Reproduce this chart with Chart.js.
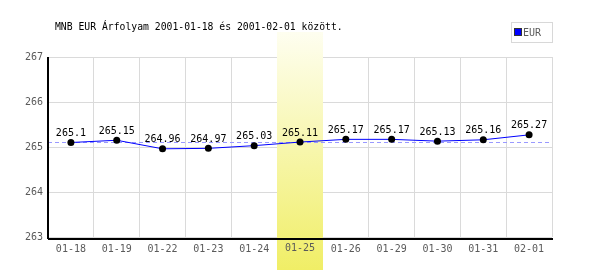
<!DOCTYPE html>
<html>
<head>
<meta charset="utf-8">
<script src="https://cdn.jsdelivr.net/npm/chart.js@4"></script>
<style>
html,body{margin:0;padding:0;background:#fff;}
canvas{display:block;}
</style>
</head>
<body>
<canvas id="c" width="600" height="270"></canvas>
<script>
const titleText = 'MNB EUR Árfolyam 2001-01-18 és 2001-02-01 között.';
const seriesName = 'EUR';
const categories = ['01-18','01-19','01-22','01-23','01-24','01-25','01-26','01-29','01-30','01-31','02-01'];
const eurValues = [265.1,265.15,264.96,264.97,265.03,265.11,265.17,265.17,265.13,265.16,265.27];
const yTicks = [263,264,265,266,267];
const highlightIndex = 5;

const FONT = '"DejaVu Sans Mono", "Liberation Mono", monospace';
const TICK_COLOR = '#5a5a5a';
const avg = eurValues.reduce((a,b)=>a+b,0)/eurValues.length;

const overlay = {
  id: 'overlay',
  beforeDatasetsDraw(chart) {
    const ctx = chart.ctx, x = chart.scales.x, a = chart.chartArea;
    const w = (a.right - a.left) / categories.length;
    const cx = x.getPixelForValue(highlightIndex);
    const g = ctx.createLinearGradient(0, 32, 0, 270);
    g.addColorStop(0, '#fefef0');
    g.addColorStop(1, '#f0ee66');
    ctx.save();
    ctx.fillStyle = g;
    ctx.fillRect(Math.round(cx - w/2), 32, Math.round(w), 238);
    // redraw the tick label of the highlighted category
    ctx.font = '10px ' + FONT;
    ctx.fillStyle = TICK_COLOR;
    ctx.textAlign = 'center';
    ctx.textBaseline = 'middle';
    ctx.fillText(categories[highlightIndex], cx, a.bottom + 11);
    // average dashed line
    const ya = Math.round(chart.scales.y.getPixelForValue(avg)) + 0.5;
    ctx.strokeStyle = '#9999ff';
    ctx.lineWidth = 1;
    ctx.setLineDash([4,3]);
    ctx.beginPath(); ctx.moveTo(a.left, ya); ctx.lineTo(a.right, ya); ctx.stroke();
    ctx.setLineDash([]);
    // axes
    ctx.strokeStyle = '#000';
    ctx.lineWidth = 2;
    ctx.beginPath();
    ctx.moveTo(a.left, a.top); ctx.lineTo(a.left, a.bottom + 2);
    ctx.moveTo(a.left, a.bottom + 2); ctx.lineTo(a.right + 1, a.bottom + 2);
    ctx.stroke();
    ctx.restore();
  },
  afterDatasetsDraw(chart) {
    const ctx = chart.ctx, meta = chart.getDatasetMeta(0);
    ctx.save();
    ctx.font = '10px ' + FONT;
    ctx.fillStyle = '#000';
    ctx.textAlign = 'center';
    ctx.textBaseline = 'alphabetic';
    meta.data.forEach((p, i) => {
      ctx.fillText(String(eurValues[i]), p.x, p.y - 6.5);
    });
    // title
    ctx.textAlign = 'left';
    ctx.font = '9.75px ' + FONT;
    ctx.fillText(titleText, 55, 30);
    // legend
    ctx.strokeStyle = '#d8d8d8';
    ctx.lineWidth = 1;
    ctx.strokeRect(511.5, 22.5, 41, 20);
    ctx.fillStyle = '#0000ff';
    ctx.fillRect(515, 29, 6, 6);
    ctx.strokeStyle = '#333';
    ctx.strokeRect(514.5, 28.5, 7, 7);
    ctx.fillStyle = TICK_COLOR;
    ctx.font = '10px ' + FONT;
    ctx.fillText(seriesName, 523, 36);
    ctx.restore();
  }
};

new Chart(document.getElementById('c'), {
  type: 'line',
  data: {
    labels: categories,
    datasets: [{
      label: seriesName,
      data: eurValues,
      borderColor: '#0000ff',
      borderWidth: 1,
      tension: 0,
      pointRadius: 3.5,
      pointBackgroundColor: '#000',
      pointBorderColor: '#000',
      pointBorderWidth: 0,
      fill: false
    }]
  },
  options: {
    responsive: false,
    animation: false,
    devicePixelRatio: 1,
    layout: { padding: { top: 57, right: 48, left: 0, bottom: 0 } },
    plugins: { legend: { display: false }, title: { display: false }, tooltip: { enabled: false } },
    scales: {
      x: {
        type: 'category',
        offset: true,
        grid: { offset: true, color: '#dadada', lineWidth: 1, drawTicks: false },
        border: { display: false },
        ticks: { color: TICK_COLOR, font: { family: FONT, size: 10 }, padding: 6, maxRotation: 0, autoSkip: false },
        afterFit(s) { s.height = 33; }
      },
      y: {
        min: 263, max: 267,
        afterBuildTicks(s) { s.ticks = yTicks.map(v => ({ value: v })); },
        grid: { color: '#dadada', lineWidth: 1, drawTicks: false },
        border: { display: false },
        ticks: { color: TICK_COLOR, font: { family: FONT, size: 10 }, padding: 5 },
        afterFit(s) { s.width = 48; }
      }
    }
  },
  plugins: [overlay]
});
</script>
</body>
</html>
